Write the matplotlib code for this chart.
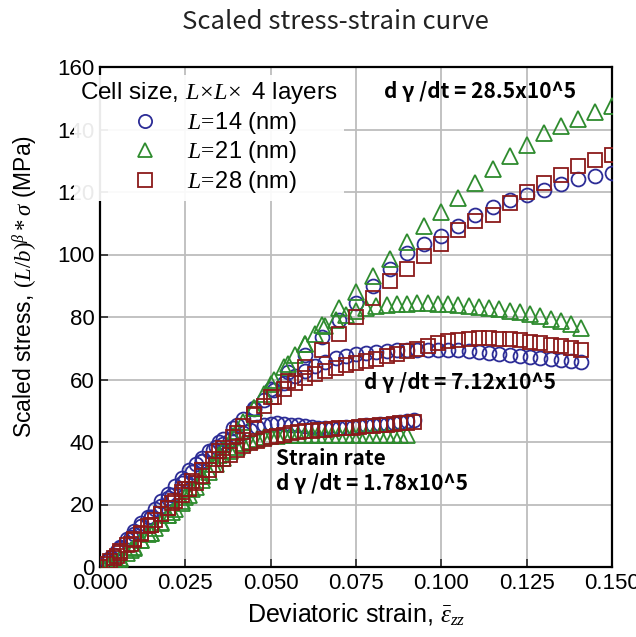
import matplotlib
matplotlib.use("Agg")
import matplotlib.pyplot as plt
from matplotlib.lines import Line2D

plt.rcParams['font.family'] = ['Liberation Sans', 'DejaVu Sans']
plt.rcParams['mathtext.fontset'] = 'custom'
plt.rcParams['mathtext.rm'] = 'Liberation Serif'
plt.rcParams['mathtext.it'] = 'Liberation Serif:italic'
plt.rcParams['mathtext.bf'] = 'Liberation Serif:bold'

# ---------------- data ----------------
sizes = ["14", "21", "28"]
rate_labels = ["28.5x10^5", "7.12x10^5", "1.78x10^5"]

# high strain rate (28.5x10^5)
x_high = [0.000, 0.005, 0.010, 0.015, 0.020, 0.025, 0.030, 0.035, 0.040, 0.045,
          0.050, 0.055, 0.060, 0.065, 0.070, 0.075, 0.080, 0.085, 0.090, 0.095,
          0.100, 0.105, 0.110, 0.115, 0.120, 0.125, 0.130, 0.135, 0.140, 0.145,
          0.150]
y_high_14 = [0, 5, 10.5, 16, 22, 28, 34, 40, 45.5, 51,
             57, 62.5, 68, 73.5, 79, 84.5, 90, 95.5, 100.5, 103.5,
             106, 109, 112.5, 115.3, 117.3, 119, 120.8, 122.5, 124.2, 125.2,
             126.2]
y_high_21 = [0, 1.5, 6, 11, 16.5, 22.5, 29, 36, 43.5, 51,
             58.5, 65, 71.5, 77.5, 83, 88, 93, 98.5, 104, 109,
             113.5, 118, 123, 127.3, 131.5, 135, 138.8, 141, 143.5, 145.7,
             147.5]
y_high_28 = [0, 3.5, 8.5, 13.5, 19, 25, 31, 37, 43, 49,
             54.5, 59.5, 64, 69.5, 74.5, 80, 86, 91.5, 95.5, 99.5,
             103.5, 107.8, 110.8, 112.8, 116.5, 120, 123, 125.5, 128.2, 130.3,
             132]

# medium strain rate (7.12x10^5)
x_med = [0.000, 0.003, 0.006, 0.009, 0.012, 0.015, 0.018, 0.021, 0.024, 0.027,
         0.030, 0.033, 0.036, 0.039, 0.042, 0.045, 0.048, 0.051, 0.054, 0.057,
         0.060, 0.063, 0.066, 0.069, 0.072, 0.075, 0.078, 0.081, 0.084, 0.087,
         0.090, 0.093, 0.096, 0.099, 0.102, 0.105, 0.108, 0.111, 0.114, 0.117,
         0.120, 0.123, 0.126, 0.129, 0.132, 0.135, 0.138, 0.141]
y_med_14 = [0, 3, 6, 9.5, 13, 16, 19.5, 23, 27, 30.5,
            34, 37.5, 41, 44.5, 47.5, 50.5, 53.5, 56.5, 59, 61,
            62.8, 64.3, 65.5, 66.8, 67.6, 68.2, 68.6, 68.9, 69.1, 69.3,
            69.4, 69.5, 69.6, 69.6, 69.5, 69.3, 69.1, 68.8, 68.5, 68.2,
            67.9, 67.6, 67.2, 66.9, 66.5, 66.2, 65.8, 65.5]
y_med_21 = [0, 0.5, 2.5, 5.5, 8.5, 11, 14, 17.5, 21, 25,
            29, 33, 37.5, 42, 46.5, 51, 55.5, 60, 64, 68,
            71.5, 74.5, 77, 79, 80.5, 81.8, 82.8, 83.4, 83.8, 84.1,
            84.3, 84.4, 84.4, 84.3, 84.1, 83.9, 83.6, 83.3, 82.9, 82.5,
            82.0, 81.5, 80.9, 80.2, 79.5, 78.7, 77.7, 76.5]
y_med_28 = [0, 2, 4.5, 7.5, 10.5, 13.5, 17, 20.5, 24, 27.5,
            31, 34.5, 38, 41.5, 45, 48.5, 51.5, 54.5, 57, 59,
            60.5, 61.8, 62.8, 63.7, 64.5, 65.3, 66, 66.7, 67.4, 68.2,
            69, 69.9, 70.8, 71.6, 72.3, 72.8, 73.1, 73.3, 73.3, 73.1,
            72.9, 72.5, 72.1, 71.6, 71.1, 70.6, 70.1, 69.5]

# low strain rate (1.78x10^5)
x_low = [0.000, 0.002, 0.004, 0.006, 0.008, 0.010, 0.012, 0.014, 0.016, 0.018,
         0.020, 0.022, 0.024, 0.026, 0.028, 0.030, 0.032, 0.034, 0.036, 0.038,
         0.040, 0.042, 0.044, 0.046, 0.048, 0.050, 0.052, 0.054, 0.056, 0.058,
         0.060, 0.062, 0.064, 0.066, 0.068, 0.070, 0.072, 0.074, 0.076, 0.078,
         0.080, 0.082, 0.084, 0.086, 0.088, 0.090, 0.092]
y_low_14 = [0, 2, 4, 6.5, 9, 11.5, 14, 16, 18.5, 21,
            23.5, 26, 28.5, 31, 33, 35, 37, 38.5, 39.5, 40.5,
            41.5, 42.8, 43.9, 44.8, 45.5, 45.9, 46, 45.9, 45.6, 45.3,
            45, 44.8, 44.6, 44.5, 44.5, 44.6, 44.7, 44.9, 45.1, 45.3,
            45.5, 45.7, 45.9, 46.2, 46.5, 46.8, 47.1]
y_low_21 = [0, 0.3, 1.3, 2.8, 4.5, 6.5, 8.5, 10.5, 12.5, 14.5,
            16.5, 18.5, 20.5, 23, 25.5, 28, 30.5, 33, 35, 37,
            38.5, 39.6, 40.4, 41, 41.5, 41.8, 42, 42.1, 42.2, 42.3,
            42.3, 42.3, 42.3, 42.3, 42.3, 42.3, 42.3, 42.3, 42.3, 42.3,
            42.3, 42.3, 42.4, 42.4, 42.4, 42.4]
y_low_28 = [0, 1, 3, 5, 7, 9, 11, 13, 15, 17,
            19, 21, 23, 25, 27, 29, 31, 32.8, 34.5, 36,
            37.4, 38.6, 39.6, 40.4, 41, 41.5, 42, 42.4, 42.8, 43.1,
            43.4, 43.6, 43.8, 44, 44.2, 44.4, 44.5, 44.6, 44.8, 45,
            45.2, 45.4, 45.6, 45.8, 46, 46.2, 46.4]

x_ticks = [0.000, 0.025, 0.050, 0.075, 0.100, 0.125, 0.150]
y_ticks = [0, 20, 40, 60, 80, 100, 120, 140, 160]

# ---------------- style ----------------
col = {"14": "#2c2c96", "21": "#2e8b2e", "28": "#8b1a1a"}
mk = {"14": "o", "21": "^", "28": "s"}
ms = {"14": 10, "21": 11, "28": 10}

fig = plt.figure(figsize=(6.36, 6.37), dpi=100)
ax = fig.add_axes([100/636, 70/637, 512/636, 500/637])

series = [
    (x_low, y_low_14, "14"), (x_low, y_low_21, "21"), (x_low, y_low_28, "28"),
    (x_med, y_med_14, "14"), (x_med, y_med_21, "21"), (x_med, y_med_28, "28"),
    (x_high, y_high_14, "14"), (x_high, y_high_21, "21"), (x_high, y_high_28, "28"),
]
for order in ["14", "21", "28"]:
    for xs, ys, s in series:
        if s != order:
            continue
        ax.plot(xs[:len(ys)], ys, linestyle='none', marker=mk[s], ms=ms[s],
                mfc='none', mec=col[s], mew=1.3, zorder=3)

ax.set_xlim(0, 0.15)
ax.set_ylim(0, 160)
ax.set_xticks(x_ticks)
ax.set_xticklabels([f"{v:.3f}" for v in x_ticks])
ax.set_yticks(y_ticks)
ax.set_yticklabels([str(v) for v in y_ticks])
ax.grid(True, color='#bdbdbd', lw=1.3, zorder=0)
ax.set_axisbelow(True)
ax.tick_params(direction='in', length=6, width=1.3, labelsize=16, color='#333333',
               pad=4)
for sp in ax.spines.values():
    sp.set_linewidth(1.6)
    sp.set_color('black')

ax.set_xlabel(r"Deviatoric strain, $\bar{\varepsilon}_{zz}$", fontsize=18, labelpad=6)
ax.set_ylabel(r"Scaled stress, $(L/b)^{\beta}*\sigma$ (MPa)", fontsize=16.5)
ax.yaxis.set_label_coords(-0.146, 0.56)
ax.yaxis.label.set_va('center')

fig.text(335/636, 1 - 22/637, "Scaled stress-strain curve", ha='center', va='center',
         fontsize=18.5, family=['Noto Sans CJK JP', 'DejaVu Sans'], color='#222222')

# legend
handles = [Line2D([], [], linestyle='none', marker=mk[s], ms=ms[s] - 0.5, mfc='none',
                  mec=col[s], mew=1.3) for s in sizes]
labels = [r"$L\!=\!$" + s + " (nm)" for s in sizes]
leg = ax.legend(handles, labels, title=r"Cell size, $L\!\times\! L\!\times$ 4 layers",
                loc='upper left', bbox_to_anchor=(-0.05, 0.985), borderaxespad=0,
                fontsize=17, title_fontsize=17.5, frameon=True, fancybox=False,
                framealpha=0.92, edgecolor='none', labelspacing=0.15,
                handletextpad=0.8, borderpad=0.25)
leg.set_zorder(5)

# annotations
jp = ['Noto Sans CJK JP', 'DejaVu Sans']
ax.text(0.0833, 152, "d \u03b3 /dt = " + rate_labels[0], fontsize=15, family=jp,
        fontweight='bold', va='center', ha='left', zorder=6)
ax.text(0.0772, 59, "d \u03b3 /dt = " + rate_labels[1], fontsize=15, family=jp,
        fontweight='bold', va='center', ha='left', zorder=6)
ax.text(0.0515, 34.6, "Strain rate", fontsize=15, family=jp,
        fontweight='bold', va='center', ha='left', zorder=6)
ax.text(0.0515, 26.6, "d \u03b3 /dt = " + rate_labels[2], fontsize=15, family=jp,
        fontweight='bold', va='center', ha='left', zorder=6)

fig.savefig("out.png", dpi=100)
